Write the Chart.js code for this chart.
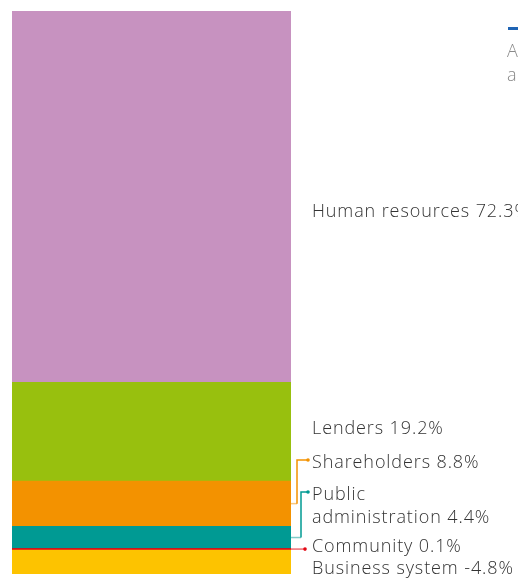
<!DOCTYPE html>
<html>
<head>
<meta charset="utf-8">
<script src="https://cdn.jsdelivr.net/npm/chart.js@4.4.0/dist/chart.umd.min.js"></script>
<style>
  html, body { margin: 0; padding: 0; background: #fff; }
  #wrap { width: 518px; height: 578px; position: relative; overflow: hidden; }
</style>
</head>
<body>
<div id="wrap"><canvas id="c"></canvas></div>
<script>
// ---- data ----
const categories = ['Human resources', 'Lenders', 'Shareholders', 'Public administration', 'Community', 'Business system'];
const values = [72.3, 19.2, 8.8, 4.4, 0.1, -4.8];
const colors = ['#C792C0', '#98C00E', '#F39200', '#009A93', '#E30613', '#FDC300'];
const legendLines = ['Added value', 'allocated'];

// stacking order: bottom first
const order = [5, 4, 3, 2, 1, 0];
const total = values.reduce((s, v) => s + Math.abs(v), 0);

const datasets = order.map(i => ({
  label: categories[i],
  data: [Math.abs(values[i])],
  backgroundColor: colors[i],
  borderWidth: 0,
  barPercentage: 1,
  categoryPercentage: 1
}));

function fmt(v) { return v.toFixed(1) + '%'; }

const labelPlugin = {
  id: 'sideLabels',
  afterDatasetsDraw(chart) {
    const ctx = chart.ctx;
    const area = chart.chartArea;
    const font = '300 18px "Open Sans", "DejaVu Sans", sans-serif';
    const textX = area.right + 21;
    const segs = order.map((catIdx, di) => {
      const el = chart.getDatasetMeta(di).data[0];
      return { catIdx, top: el.y, bottom: el.base, center: (el.y + el.base) / 2, right: el.x + el.width / 2 };
    });
    // very thin segment drawn as a line
    segs.forEach(s => {
      if (Math.abs(s.bottom - s.top) < 1.5) {
        ctx.save();
        ctx.strokeStyle = colors[s.catIdx];
        ctx.lineWidth = 1.5;
        ctx.beginPath();
        ctx.moveTo(area.left, s.center);
        ctx.lineTo(s.right, s.center);
        ctx.stroke();
        ctx.restore();
      }
    });
    // layout labels bottom-up
    const gaps = [22, 29, 32, 34, 0];
    const lineH = 23;
    let prev = null;
    const placed = [];
    segs.forEach((s, k) => {
      const name = categories[s.catIdx];
      let lines;
      if (name === 'Public administration') lines = ['Public', 'administration ' + fmt(values[s.catIdx])];
      else lines = [name + ' ' + fmt(values[s.catIdx])];
      let lastY;
      if (prev === null) {
        lastY = Math.max(s.center, area.bottom - 6);
      } else if (k === segs.length - 1) {
        lastY = s.center + 14;
      } else {
        lastY = Math.min(s.center + (lines.length - 1) * lineH / 2, prev - gaps[k - 1]);
      }
      const firstY = lastY - (lines.length - 1) * lineH;
      placed.push({ s, lines, firstY, lastY });
      prev = firstY;
    });
    ctx.save();
    ctx.font = font;
    ctx.letterSpacing = '0.9px';
    ctx.fillStyle = '#333333';
    ctx.textBaseline = 'middle';
    ctx.textAlign = 'left';
    placed.forEach(p => {
      p.lines.forEach((t, li) => ctx.fillText(t, textX, p.firstY + li * lineH + 1));
    });
    ctx.restore();
    // connectors
    const elbowX = { 'Shareholders': 6, 'Public administration': 10 };
    placed.forEach(p => {
      const name = categories[p.s.catIdx];
      const col = colors[p.s.catIdx];
      const cy = p.s.center;
      const ly = p.firstY;
      ctx.save();
      ctx.strokeStyle = col;
      ctx.fillStyle = col;
      ctx.lineWidth = 1.5;
      if (elbowX[name] !== undefined) {
        const vx = p.s.right + elbowX[name];
        ctx.globalAlpha = 0.5;
        ctx.beginPath();
        ctx.moveTo(p.s.right, cy);
        ctx.lineTo(vx, cy);
        ctx.stroke();
        ctx.globalAlpha = 1;
        ctx.beginPath();
        ctx.moveTo(vx, cy);
        ctx.lineTo(vx, ly - 2);
        ctx.lineTo(textX - 4, ly - 2);
        ctx.stroke();
        ctx.beginPath();
        ctx.arc(textX - 4, ly - 2, 1.8, 0, Math.PI * 2);
        ctx.fill();
      } else if (name === 'Community') {
        ctx.globalAlpha = 0.6;
        ctx.beginPath();
        ctx.moveTo(p.s.right, cy);
        ctx.lineTo(textX - 7, cy);
        ctx.stroke();
        ctx.globalAlpha = 1;
        ctx.beginPath();
        ctx.arc(textX - 7, cy, 1.8, 0, Math.PI * 2);
        ctx.fill();
      }
      ctx.restore();
    });
    // cut-off legend at top right
    ctx.save();
    ctx.fillStyle = '#1F64B4';
    ctx.fillRect(508, 27, 14, 3);
    ctx.font = '300 18px "Open Sans", "DejaVu Sans", sans-serif';
    ctx.letterSpacing = '0.9px';
    ctx.fillStyle = '#8a8a8a';
    ctx.textBaseline = 'middle';
    ctx.fillText(legendLines[0], 507, 52);
    ctx.fillText(legendLines[1], 507, 76);
    ctx.restore();
  }
};

new Chart(document.getElementById('c'), {
  type: 'bar',
  data: { labels: [''], datasets },
  options: {
    responsive: true,
    maintainAspectRatio: false,
    animation: false,
    layout: { padding: { left: 12, right: 227, top: 11, bottom: 4 } },
    plugins: { legend: { display: false }, tooltip: { enabled: false } },
    scales: {
      x: { display: false, stacked: true },
      y: { display: false, stacked: true, min: 0, max: total }
    }
  },
  plugins: [labelPlugin]
});
</script>
</body>
</html>
